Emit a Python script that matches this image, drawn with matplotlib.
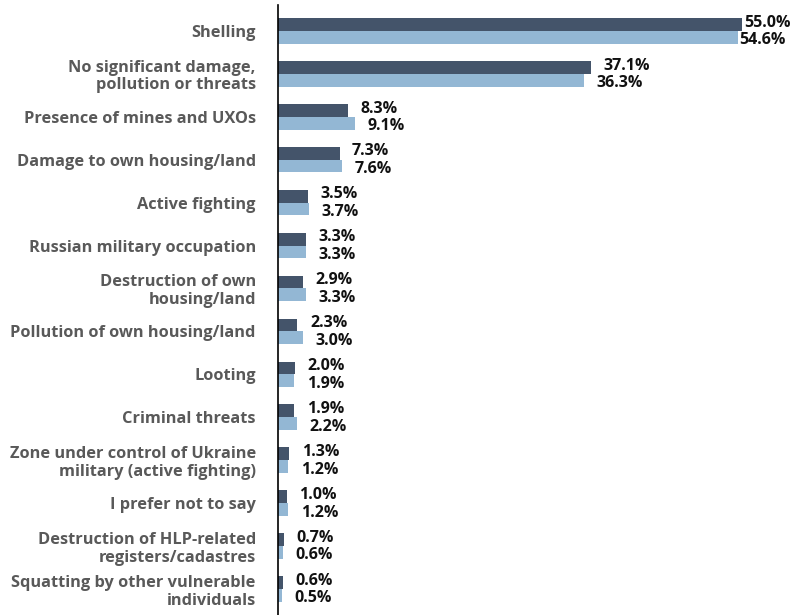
import matplotlib
matplotlib.use("Agg")
import matplotlib.pyplot as plt
import numpy as np

plt.rcParams['font.family'] = ['Open Sans', 'DejaVu Sans']

categories = [
    "Shelling",
    "No significant damage,\npollution or threats",
    "Presence of mines and UXOs",
    "Damage to own housing/land",
    "Active fighting",
    "Russian military occupation",
    "Destruction of own\nhousing/land",
    "Pollution of own housing/land",
    "Looting",
    "Criminal threats",
    "Zone under control of Ukraine\nmilitary (active fighting)",
    "I prefer not to say",
    "Destruction of HLP-related\nregisters/cadastres",
    "Squatting by other vulnerable\nindividuals",
]
series_a = [55.0, 37.1, 8.3, 7.3, 3.5, 3.3, 2.9, 2.3, 2.0, 1.9, 1.3, 1.0, 0.7, 0.6]
series_b = [54.6, 36.3, 9.1, 7.6, 3.7, 3.3, 3.3, 3.0, 1.9, 2.2, 1.2, 1.2, 0.6, 0.5]

dark = "#44546A"
light = "#93B7D4"

fig = plt.figure(figsize=(7.9, 6.15), dpi=100)
ax = fig.add_axes([0.352, 0.0, 0.64, 0.992])

y = np.arange(len(categories))
h = 0.3
ax.barh(y - h / 2, series_a, height=h, color=dark)
ax.barh(y + h / 2, series_b, height=h, color=light)

label_style = dict(va="center", ha="left", fontsize=11.5, fontweight="bold",
                   color="#111111", textcoords="offset points")
for yi, a, b in zip(y, series_a, series_b):
    # long bars leave little room at the right edge, so pull their labels in
    dx_a = 2 if a > 50 else 9
    dx_b = 1 if b > 50 else 9
    ax.annotate(f"{a:.1f}%", (a, yi - h / 2), xytext=(dx_a, 1.2), **label_style)
    ax.annotate(f"{b:.1f}%", (b, yi + h / 2), xytext=(dx_b, -2.0), **label_style)

ax.set_yticks(y)
ax.set_yticklabels(categories, fontsize=11.8, fontweight="bold", color="#595959",
                   linespacing=1.15)
ax.tick_params(axis="y", length=0, pad=16)
ax.set_xticks([])
ax.set_xlim(0, 60)
ax.set_ylim(13.6, -0.6)

for side in ["top", "right", "bottom"]:
    ax.spines[side].set_visible(False)
ax.spines["left"].set_color("#000000")
ax.spines["left"].set_linewidth(1.2)

fig.savefig("out.png", dpi=100)
